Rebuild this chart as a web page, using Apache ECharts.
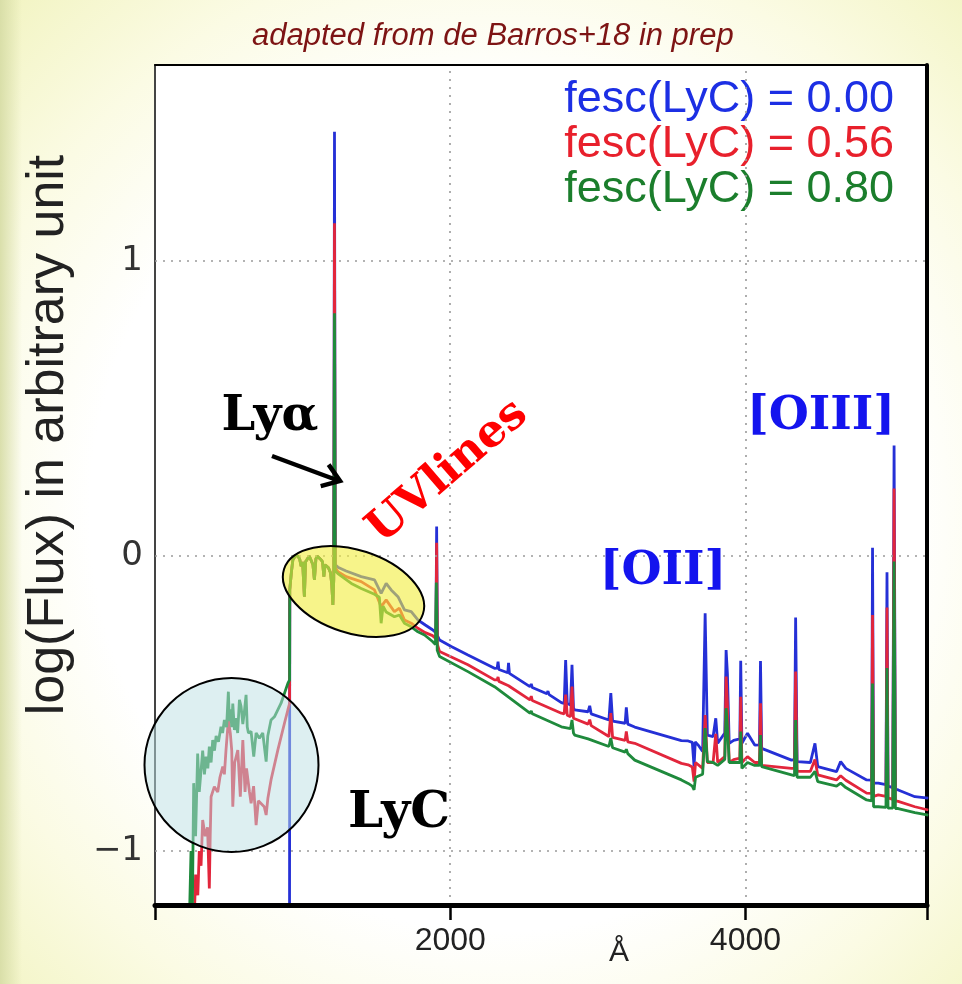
<!DOCTYPE html>
<html>
<head>
<meta charset="utf-8">
<script src="https://cdn.jsdelivr.net/npm/echarts@6/dist/echarts.min.js"></script>
<style>
html,body{margin:0;padding:0;overflow:hidden;}
#wrap{width:962px;height:984px;
background:
 linear-gradient(to right, rgba(214,220,165,0.9) 0px, rgba(214,220,165,0.0) 22px),
 radial-gradient(ellipse at 52% 52%, #ffffff 58%, #fbfbe4 78%, #f2f4c2 100%);}
#chart{width:962px;height:984px;}
</style>
</head>
<body>
<div id="wrap"><div id="chart"></div></div>
<script>
// ---- data (wavelength in Å, log flux) ----
const seriesNames = ['fesc(LyC) = 0.00', 'fesc(LyC) = 0.56', 'fesc(LyC) = 0.80'];
const xTicks = [2000, 4000];
const yTicks = [-1, 0, 1];
const gridX = [2000, 4000];
const gridY = [-1, 0, 1];

// region between Lyman limit and Lya, common to all three models
const farUVCommon = [[913,-0.115],[925,-0.05],[934,-0.013],[950,0.0],[967,0.0],[980,-0.01],[990,-0.035],[1000,-0.02],[1012,-0.138],[1020,-0.02],[1029,-0.013],[1045,0.0],[1058,0.0],[1070,-0.03],[1080,-0.081],[1090,-0.01],[1098,0.0],[1110,0.0],[1125,-0.013],[1135,-0.02],[1144,-0.07],[1152,-0.03],[1161,-0.025],[1175,-0.04],[1189,-0.057],[1198,-0.1],[1205,-0.166],[1211,-0.08]];

const blueLyC = [[911,-1.5]];
const blueUV = [[1216,1.438],[1221,-0.03],[1239,-0.038],[1295,-0.051],[1397,-0.07],[1487,-0.081],[1532,-0.127],[1566,-0.093],[1600,-0.115],[1646,-0.138],[1656,-0.132],[1690,-0.183],[1736,-0.189],[1781,-0.217],[1831,-0.234],[1880,-0.25],[1903,-0.26],[1908,0.10],[1913,-0.27],[1928,-0.285]];
const blueOpt = [[2007,-0.307],[2120,-0.336],[2300,-0.381],[2318,-0.38],[2324,-0.358],[2330,-0.385],[2390,-0.396],[2395,-0.362],[2401,-0.398],[2414,-0.40],[2540,-0.443],[2549,-0.434],[2556,-0.446],[2655,-0.467],[2662,-0.458],[2670,-0.47],[2753,-0.497],[2772,-0.50],[2782,-0.353],[2793,-0.50],[2815,-0.505],[2825,-0.369],[2835,-0.515],[2843,-0.522],[2934,-0.528],[2945,-0.508],[2955,-0.535],[3075,-0.556],[3088,-0.465],[3100,-0.56],[3185,-0.567],[3193,-0.513],[3203,-0.57],[3250,-0.58],[3566,-0.626],[3612,-0.627],[3640,-0.632],[3652,-0.714],[3660,-0.63],[3680,-0.641],[3710,-0.663],[3727,-0.194],[3742,-0.607],[3781,-0.612],[3799,-0.55],[3812,-0.635],[3860,-0.60],[3869,-0.319],[3878,-0.40],[3890,-0.635],[3920,-0.625],[3962,-0.62],[3968,-0.355],[3976,-0.635],[4014,-0.601],[4063,-0.641],[4095,-0.64],[4102,-0.356],[4110,-0.652],[4312,-0.692],[4332,-0.69],[4340,-0.209],[4350,-0.697],[4440,-0.70],[4471,-0.635],[4490,-0.714],[4617,-0.731],[4645,-0.697],[4680,-0.72],[4821,-0.759],[4855,-0.76],[4861,0.028],[4868,-0.77],[4900,-0.77],[4952,-0.775],[4959,-0.055],[4966,-0.78],[4998,-0.785],[5007,0.374],[5016,-0.79],[5035,-0.793],[5148,-0.816],[5239,-0.821]];

const redLyC = [[262,-1.3],[275,-1.08],[290,-1.15],[300,-1.0],[312,-1.05],[323,-0.895],[340,-0.95],[356,-0.92],[368,-1.127],[374,-0.95],[380,-0.816],[402,-0.782],[425,-0.80],[440,-0.75],[459,-0.714],[470,-0.74],[481,-0.658],[497,-0.556],[510,-0.60],[520,-0.66],[527,-0.85],[540,-0.70],[561,-0.658],[578,-0.816],[595,-0.624],[610,-0.80],[620,-0.72],[640,-0.80],[651,-0.838],[668,-0.78],[685,-0.912],[700,-0.83],[720,-0.84],[740,-0.85],[753,-0.878],[765,-0.82],[786,-0.759],[832,-0.658],[877,-0.567],[900,-0.522],[912,-0.50]];
const redUV = [[1216,1.128],[1221,-0.04],[1239,-0.053],[1295,-0.07],[1397,-0.087],[1487,-0.115],[1532,-0.172],[1566,-0.149],[1622,-0.189],[1656,-0.177],[1690,-0.217],[1736,-0.228],[1781,-0.245],[1831,-0.26],[1880,-0.27],[1903,-0.28],[1908,0.045],[1913,-0.30],[1928,-0.324]];
const redOpt = [[2120,-0.369],[2300,-0.42],[2318,-0.42],[2324,-0.41],[2330,-0.425],[2395,-0.44],[2540,-0.488],[2549,-0.475],[2556,-0.49],[2753,-0.533],[2772,-0.535],[2782,-0.47],[2793,-0.54],[2815,-0.545],[2825,-0.443],[2835,-0.55],[2843,-0.556],[2934,-0.57],[2945,-0.555],[2955,-0.575],[3075,-0.612],[3088,-0.533],[3100,-0.615],[3185,-0.625],[3193,-0.595],[3203,-0.63],[3250,-0.635],[3566,-0.703],[3612,-0.708],[3640,-0.715],[3652,-0.765],[3662,-0.70],[3710,-0.72],[3727,-0.539],[3742,-0.70],[3781,-0.70],[3799,-0.603],[3812,-0.70],[3860,-0.68],[3869,-0.409],[3878,-0.50],[3890,-0.70],[3920,-0.69],[3962,-0.685],[3968,-0.477],[3976,-0.70],[4014,-0.68],[4063,-0.70],[4095,-0.70],[4102,-0.499],[4110,-0.71],[4312,-0.72],[4332,-0.72],[4340,-0.392],[4350,-0.73],[4440,-0.73],[4471,-0.69],[4490,-0.742],[4617,-0.759],[4645,-0.745],[4680,-0.76],[4821,-0.804],[4855,-0.805],[4861,-0.20],[4868,-0.815],[4900,-0.81],[4952,-0.815],[4959,-0.175],[4966,-0.82],[4998,-0.825],[5007,0.229],[5016,-0.83],[5035,-0.832],[5148,-0.85],[5239,-0.861]];

const greenLyC = [[230,-1.3],[244,-1.0],[252,-1.25],[262,-0.77],[275,-0.95],[289,-0.67],[300,-0.80],[323,-0.66],[335,-0.74],[346,-0.68],[358,-0.72],[368,-0.646],[380,-0.70],[391,-0.624],[403,-0.66],[414,-0.61],[430,-0.63],[447,-0.579],[458,-0.60],[470,-0.556],[485,-0.58],[497,-0.46],[504,-0.56],[511,-0.52],[520,-0.58],[527,-0.50],[538,-0.59],[549,-0.55],[560,-0.60],[572,-0.488],[583,-0.51],[595,-0.57],[605,-0.53],[617,-0.471],[625,-0.58],[633,-0.60],[651,-0.595],[669,-0.68],[685,-0.60],[707,-0.618],[730,-0.60],[753,-0.697],[764,-0.61],[786,-0.556],[809,-0.545],[854,-0.499],[900,-0.432],[912,-0.42]];
const greenUV = [[1216,0.823],[1221,-0.05],[1239,-0.06],[1330,-0.093],[1397,-0.11],[1487,-0.13],[1520,-0.14],[1532,-0.228],[1545,-0.17],[1566,-0.19],[1622,-0.206],[1656,-0.20],[1690,-0.228],[1736,-0.24],[1781,-0.257],[1826,-0.268],[1880,-0.29],[1900,-0.30],[1906,-0.09],[1912,-0.32],[1928,-0.341]];
const greenOpt = [[2120,-0.392],[2300,-0.443],[2540,-0.533],[2549,-0.525],[2556,-0.535],[2753,-0.579],[2815,-0.585],[2825,-0.556],[2835,-0.60],[2843,-0.607],[2934,-0.62],[3075,-0.646],[3088,-0.617],[3100,-0.65],[3185,-0.665],[3193,-0.655],[3203,-0.67],[3250,-0.692],[3566,-0.759],[3612,-0.771],[3640,-0.78],[3652,-0.793],[3662,-0.75],[3710,-0.74],[3727,-0.583],[3742,-0.697],[3781,-0.70],[3812,-0.71],[3860,-0.69],[3869,-0.516],[3878,-0.58],[3890,-0.70],[3920,-0.70],[3962,-0.70],[3968,-0.595],[3976,-0.72],[4014,-0.70],[4063,-0.71],[4095,-0.71],[4102,-0.607],[4110,-0.714],[4312,-0.742],[4332,-0.745],[4340,-0.556],[4350,-0.75],[4440,-0.75],[4471,-0.73],[4490,-0.765],[4617,-0.78],[4645,-0.77],[4680,-0.785],[4821,-0.827],[4855,-0.83],[4861,-0.432],[4868,-0.85],[4900,-0.85],[4952,-0.852],[4959,-0.38],[4966,-0.855],[4998,-0.855],[5007,-0.019],[5016,-0.856],[5035,-0.856],[5148,-0.87],[5239,-0.878]];

// ---- chart ----
const lineColors = ['#2530d6', '#e2263c', '#1f8a3c'];
const legendColors = ['#1c2fe4', '#e8202c', '#1b7e2c'];

const blueData = blueLyC.concat(farUVCommon, blueUV, blueOpt);
const redData = redLyC.concat(farUVCommon, redUV, redOpt);
const greenData = greenLyC.concat(farUVCommon, greenUV, greenOpt);
const allData = [blueData, redData, greenData];

const chart = echarts.init(document.getElementById('chart'), null, {renderer: 'canvas', width: 962, height: 984});

const spectrumSeries = seriesNames.map((name, i) => ({
  name: name,
  type: 'line',
  data: allData[i],
  symbol: 'none',
  showSymbol: false,
  clip: true,
  z: 3,
  lineStyle: {color: lineColors[i], width: 2.8},
  itemStyle: {color: lineColors[i]},
  emphasis: {disabled: true}
}));

const font = 'Liberation Sans';
const option = {
  animation: false,
  backgroundColor: 'transparent',
  title: {
    text: 'adapted from de Barros+18 in prep',
    left: 247, top: 16,
    textStyle: {fontSize: 31, fontStyle: 'italic', fontWeight: 'normal', color: '#7d1414', fontFamily: font}
  },
  legend: {
    data: seriesNames.map((n, i) => ({name: n, textStyle: {color: legendColors[i]}})),
    orient: 'vertical', align: 'right', right: 58, top: 72,
    itemWidth: 0, itemHeight: 0, itemGap: 0, icon: 'rect',
    selectedMode: false,
    textStyle: {fontSize: 45, lineHeight: 44, fontFamily: font}
  },
  grid: {left: 155, right: 35, top: 65, bottom: 79, containLabel: false, outerBoundsMode: 'none',
         show: true, backgroundColor: '#ffffff', borderWidth: 0},
  xAxis: [{
    type: 'value', min: 0, max: 5230, interval: 2000, position: 'bottom', z: 10,
    axisLine: {onZero: false, lineStyle: {color: '#000', width: 5}},
    axisTick: {show: true, inside: false, length: 15, lineStyle: {color: '#000', width: 2.5}},
    axisLabel: {fontSize: 32, color: '#222', margin: 20, fontFamily: font,
      formatter: v => (xTicks.indexOf(Number(v)) >= 0 ? String(Number(v)) : '')},
    splitLine: {show: false},
    name: 'Å', nameLocation: 'middle', nameGap: 33, nameMoveOverlap: false,
    nameTextStyle: {fontSize: 30, color: '#222', fontFamily: font, padding: [0, 0, 0, 156]}
  }, {
    type: 'value', min: 0, max: 5230, position: 'top',
    axisLine: {show: true, onZero: false, lineStyle: {color: '#000', width: 2}},
    axisTick: {show: false}, axisLabel: {show: false}, splitLine: {show: false}
  }],
  yAxis: [{
    type: 'value', min: -1.183, max: 1.664,
    axisLine: {show: true, onZero: false, lineStyle: {color: '#444', width: 2}},
    axisTick: {show: false},
    axisLabel: {customValues: yTicks, fontSize: 34, color: '#333', margin: 12, fontFamily: 'DejaVu Sans',
      formatter: v => (v < 0 ? '\u2212' + Math.abs(v) : String(v))},
    splitLine: {show: false},
    name: 'log(Flux) in arbitrary unit', nameLocation: 'middle', nameGap: 80, nameMoveOverlap: false,
    nameTextStyle: {fontSize: 52, color: '#222', fontFamily: font, padding: [0, 0, 0, 100]}
  }, {
    type: 'value', min: -1.183, max: 1.664, position: 'right',
    axisLine: {show: true, onZero: false, lineStyle: {color: '#000', width: 4}},
    axisTick: {show: false}, axisLabel: {show: false}, splitLine: {show: false}
  }],
  series: [{
    name: 'gridlines', type: 'line', data: [], z: 1, silent: true,
    markLine: {
      silent: true, symbol: ['none', 'none'], label: {show: false},
      lineStyle: {type: [2, 6], color: '#9a9a9a', width: 1.6},
      emphasis: {disabled: true},
      data: gridX.map(v => ({xAxis: v})).concat(gridY.map(v => ({yAxis: v})))
    }
  }].concat(spectrumSeries),
  graphic: [
    {type: 'circle', z: 100, shape: {cx: 231.5, cy: 765, r: 87},
     style: {fill: 'rgba(188,224,228,0.5)', stroke: '#000', lineWidth: 2}},
    {type: 'ellipse', z: 100, x: 353.5, y: 591.5, rotation: -0.314, shape: {cx: 0, cy: 0, rx: 73, ry: 41.5},
     style: {fill: 'rgba(242,236,60,0.6)', stroke: '#000', lineWidth: 2}},
    {type: 'line', z: 100, shape: {x1: 272, y1: 456, x2: 338, y2: 480.5},
     style: {stroke: '#000', lineWidth: 4.5}},
    {type: 'polyline', z: 100, shape: {points: [[328.6, 464.6], [340, 481], [320.7, 486.1]]},
     style: {stroke: '#000', lineWidth: 4.5, fill: null}},
    {type: 'text', z: 101, x: 270, y: 418,
     style: {text: 'Ly\u03b1', font: 'bold 48px "DejaVu Serif"', fill: '#000', align: 'center', verticalAlign: 'middle', textAlign: 'center', textVerticalAlign: 'middle'}},
    {type: 'text', z: 101, x: 399, y: 814,
     style: {text: 'LyC', font: 'bold 50px "DejaVu Serif"', fill: '#000', align: 'center', verticalAlign: 'middle', textAlign: 'center', textVerticalAlign: 'middle'}},
    {type: 'text', z: 101, x: 663, y: 572,
     style: {text: '[OII]', font: 'bold 46px "DejaVu Serif"', fill: '#1414ee', align: 'center', verticalAlign: 'middle', textAlign: 'center', textVerticalAlign: 'middle'}},
    {type: 'text', z: 101, x: 821, y: 417,
     style: {text: '[OIII]', font: 'bold 46px "DejaVu Serif"', fill: '#1414ee', align: 'center', verticalAlign: 'middle', textAlign: 'center', textVerticalAlign: 'middle'}},
    {type: 'text', z: 101, x: 448, y: 472, rotation: 0.71,
     style: {text: 'UVlines', font: 'bold 45px "DejaVu Serif"', fill: '#ff0000', align: 'center', verticalAlign: 'middle', textAlign: 'center', textVerticalAlign: 'middle'}}
  ]
};
chart.setOption(option);
</script>
</body>
</html>
